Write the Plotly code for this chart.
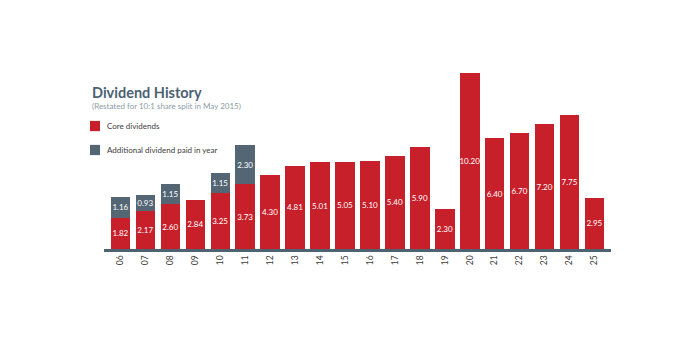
import plotly.graph_objects as go

years = ["06", "07", "08", "09", "10", "11", "12", "13", "14", "15",
         "16", "17", "18", "19", "20", "21", "22", "23", "24", "25"]
core = [1.82, 2.17, 2.60, 2.84, 3.25, 3.73, 4.30, 4.81, 5.01, 5.05,
        5.10, 5.40, 5.90, 2.30, 10.20, 6.40, 6.70, 7.20, 7.75, 2.95]
additional = [1.16, 0.93, 1.15, None, 1.15, 2.30, None, None, None, None,
              None, None, None, None, None, None, None, None, None, None]
legend_labels = ["Core dividends", "Additional dividend paid in year"]

RED = "#C8202B"
GREY = "#546674"
FONT = "Lato"

fig = go.Figure()
fig.add_trace(go.Bar(
    x=years, y=core, name=legend_labels[0],
    marker=dict(color=RED, line=dict(width=0)),
    text=[f"{v:.2f}" for v in core], textposition="inside",
    insidetextanchor="middle", constraintext="none", textangle=0,
    textfont=dict(color="white", size=8, family=FONT),
    showlegend=False,
))
fig.add_trace(go.Bar(
    x=years, y=additional, name=legend_labels[1],
    marker=dict(color=GREY, line=dict(width=0)),
    text=[f"{v:.2f}" if v is not None else "" for v in additional],
    textposition="inside", insidetextanchor="middle", constraintext="none",
    textangle=0, textfont=dict(color="white", size=8, family=FONT),
    showlegend=False,
))

# custom legend (swatch + label), placed like the reference
legend_items = [(legend_labels[0], RED, 0.672), (legend_labels[1], GREY, 0.541)]
shapes = []
annotations = [
    dict(text="Dividend History", xref="paper", yref="paper",
         x=-0.028, y=0.855, xanchor="left", yanchor="middle", showarrow=False,
         font=dict(size=14.5, color="#4b6272", family=FONT, weight=700)),
    dict(text="(Restated for 10:1 share split in May 2015)", xref="paper", yref="paper",
         x=-0.028, y=0.781, xanchor="left", yanchor="middle", showarrow=False,
         font=dict(size=8, color="#8c9ba6", family=FONT)),
]
for label, col, yc in legend_items:
    shapes.append(dict(type="rect", xref="paper", yref="paper",
                       x0=-0.0276, x1=-0.0079, y0=yc - 0.028, y1=yc + 0.028,
                       fillcolor=col, line=dict(width=0)))
    annotations.append(dict(text=label, xref="paper", yref="paper",
                            x=0.002, y=yc, xanchor="left", yanchor="middle",
                            showarrow=False,
                            font=dict(size=8, color="#3c3c3c", family=FONT)))

fig.update_layout(
    width=700, height=350,
    barmode="stack", bargap=0.22,
    paper_bgcolor="white", plot_bgcolor="white",
    margin=dict(l=104, r=89, t=66, b=101, autoexpand=False),
    font=dict(family=FONT, color="#4a4a4a"),
    showlegend=False,
    xaxis=dict(type="category", range=[-0.66, 19.66], showgrid=False,
               showline=True, linecolor="#4f6270", linewidth=3,
               ticks="", tickangle=-90, fixedrange=True,
               tickfont=dict(size=8.5, color="#3c3c3c", family=FONT)),
    yaxis=dict(range=[0, 10.58], visible=False, showgrid=False, zeroline=False),
    shapes=shapes,
    annotations=annotations,
)

fig.write_html("out.html")
